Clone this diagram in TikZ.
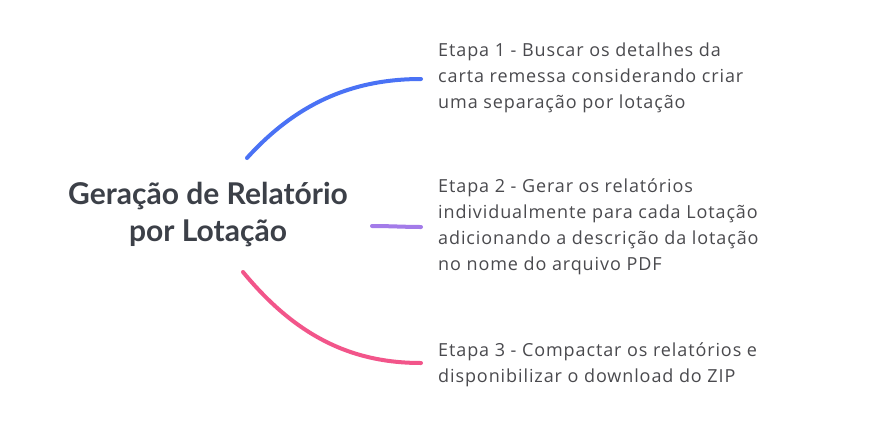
\documentclass[tikz,border=0pt]{standalone}
\usepackage{fontspec}
\setmainfont{Open Sans}[LetterSpace=5]
\newfontfamily\titlefont{Lato}
\definecolor{tblue}{HTML}{4A72F5}
\definecolor{tpurple}{HTML}{A37BE9}
\definecolor{tpink}{HTML}{F2558A}
\definecolor{ttext}{HTML}{4A4A4E}
\definecolor{ttitle}{HTML}{3C4048}
\begin{document}
\begin{tikzpicture}[x=1pt,y=-1pt,
  branch/.style={line width=4pt,line cap=round},
  stepnote/.style={anchor=north west,align=left,inner sep=0pt,text=ttext,
    font=\fontsize{18}{26}\selectfont},
  titlenode/.style={align=center,inner sep=0pt,text=ttitle,
    font=\titlefont\fontsize{30}{37}\selectfont\bfseries}]
\useasboundingbox[fill=white] (0,0) rectangle (871,437);
\node[titlenode] (root) at (208,215) {Geração de Relatório\\por Lotação};
\coordinate (b1s) at (247,158);
\coordinate (b1e) at (421,79);
\coordinate (b2s) at (372,226);
\coordinate (b2e) at (421,227);
\coordinate (b3s) at (243,272);
\coordinate (b3e) at (421,363);
\draw[branch,tblue] (b1s) .. controls (295,105) and (350,79) .. (b1e);
\draw[branch,tpurple] (b2s) .. controls (390,226) and (405,227) .. (b2e);
\draw[branch,tpink] (b3s) .. controls (295,335) and (350,363) .. (b3e);
\node[stepnote] (s1) at (438,43) {Etapa 1 - Buscar os detalhes da\\carta remessa considerando criar\\uma separação por lotação};
\node[stepnote] (s2) at (438,179) {Etapa 2 - Gerar os relatórios\\individualmente para cada Lotação\\adicionando a descrição da lotação\\no nome do arquivo PDF};
\node[stepnote] (s3) at (438,343) {Etapa 3 - Compactar os relatórios e\\disponibilizar o download do ZIP};
\end{tikzpicture}
\end{document}
